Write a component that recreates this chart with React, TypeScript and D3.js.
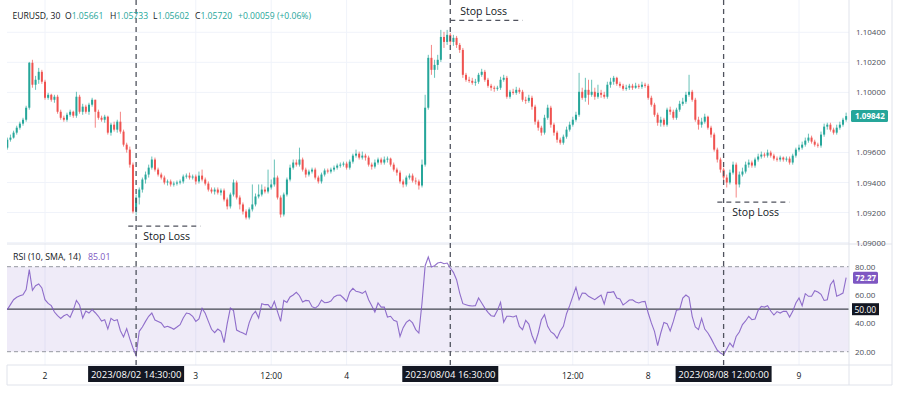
import React, { useRef, useEffect } from 'react';
import * as d3 from 'd3';

// 30 min EURUSD bars, 2023-08-01 18:00 .. 2023-08-09 07:30
const FIRST_OPEN = 1.09632;
const CLOSES = [
  1.09685, 1.09699, 1.09732, 1.09765, 1.09792, 1.09818, 1.09898, 1.10197, 1.10051, 1.10084,
  1.10137, 1.10071, 1.09964, 1.09984, 1.09951, 1.09971, 1.09871, 1.09831, 1.09818, 1.09851,
  1.09871, 1.09845, 1.09971, 1.09871, 1.09905, 1.09871, 1.09918, 1.09951, 1.09871, 1.09831,
  1.09818, 1.09838, 1.09732, 1.09785, 1.09752, 1.09805, 1.09739, 1.09652, 1.09619, 1.09519,
  1.09207, 1.09300, 1.09353, 1.09420, 1.09453, 1.09499, 1.09553, 1.09486, 1.09453, 1.09433,
  1.09400, 1.09407, 1.09387, 1.09393, 1.09400, 1.09407, 1.09440, 1.09446, 1.09433, 1.09440,
  1.09407, 1.09446, 1.09420, 1.09393, 1.09353, 1.09340, 1.09353, 1.09333, 1.09347, 1.09287,
  1.09241, 1.09320, 1.09400, 1.09300, 1.09254, 1.09207, 1.09167, 1.09221, 1.09254, 1.09307,
  1.09320, 1.09353, 1.09340, 1.09367, 1.09387, 1.09433, 1.09300, 1.09187, 1.09320, 1.09420,
  1.09499, 1.09533, 1.09519, 1.09553, 1.09486, 1.09453, 1.09473, 1.09486, 1.09433, 1.09407,
  1.09453, 1.09480, 1.09473, 1.09486, 1.09499, 1.09513, 1.09519, 1.09526, 1.09499, 1.09539,
  1.09579, 1.09592, 1.09566, 1.09579, 1.09566, 1.09519, 1.09506, 1.09533, 1.09553, 1.09533,
  1.09553, 1.09559, 1.09519, 1.09486, 1.09466, 1.09407, 1.09387, 1.09433, 1.09446, 1.09413,
  1.09407, 1.09380, 1.09519, 1.09898, 1.10230, 1.10150, 1.10183, 1.10217, 1.10369, 1.10336,
  1.10383, 1.10336, 1.10363, 1.10316, 1.10283, 1.10117, 1.10084, 1.10077, 1.10064, 1.10071,
  1.10117, 1.10137, 1.10084, 1.10044, 1.10031, 1.10024, 1.10031, 1.10084, 1.10097, 1.09971,
  1.10004, 1.09997, 1.10017, 1.10004, 1.09951, 1.09944, 1.09964, 1.09905, 1.09805, 1.09765,
  1.09732, 1.09831, 1.09898, 1.09785, 1.09732, 1.09685, 1.09665, 1.09705, 1.09752, 1.09785,
  1.09818, 1.09851, 1.10004, 1.09964, 1.10017, 1.09984, 1.10004, 1.09971, 1.09997, 1.09984,
  1.09971, 1.10051, 1.10071, 1.10097, 1.10057, 1.10044, 1.10024, 1.10031, 1.10044, 1.10031,
  1.10044, 1.10037, 1.10051, 1.10044, 1.09964, 1.09918, 1.09851, 1.09798, 1.09818, 1.09785,
  1.09885, 1.09871, 1.09831, 1.09885, 1.09924, 1.09938, 1.09984, 1.10004, 1.09951, 1.09818,
  1.09785, 1.09805, 1.09838, 1.09765, 1.09719, 1.09619, 1.09553, 1.09486, 1.09433, 1.09400,
  1.09466, 1.09519, 1.09387, 1.09453, 1.09473, 1.09519, 1.09533, 1.09513, 1.09553, 1.09573,
  1.09586, 1.09579, 1.09599, 1.09579, 1.09559, 1.09553, 1.09566, 1.09553, 1.09559, 1.09533,
  1.09579, 1.09619, 1.09632, 1.09652, 1.09679, 1.09699, 1.09672, 1.09652, 1.09646, 1.09719,
  1.09772, 1.09785, 1.09752, 1.09732, 1.09765, 1.09785, 1.09818, 1.09842,
];
const HIGHS = [
  1.09699, 1.09719, 1.09745, 1.09778, 1.09805, 1.09831, 1.09911, 1.10203, 1.10217, 1.10110,
  1.10163, 1.10150, 1.10084, 1.09997, 1.09991, 1.09984, 1.09984, 1.09885, 1.09845, 1.09865,
  1.09885, 1.09878, 1.10004, 1.09984, 1.09924, 1.09918, 1.09931, 1.09964, 1.09951, 1.09885,
  1.09845, 1.09851, 1.09845, 1.09798, 1.09805, 1.09818, 1.09871, 1.09752, 1.09665, 1.09639,
  1.09533, 1.09320, 1.09367, 1.09433, 1.09473, 1.09519, 1.09573, 1.09566, 1.09499, 1.09466,
  1.09446, 1.09420, 1.09420, 1.09407, 1.09413, 1.09420, 1.09453, 1.09460, 1.09466, 1.09453,
  1.09453, 1.09473, 1.09486, 1.09433, 1.09407, 1.09367, 1.09367, 1.09367, 1.09360, 1.09360,
  1.09300, 1.09333, 1.09420, 1.09413, 1.09314, 1.09267, 1.09221, 1.09234, 1.09387, 1.09327,
  1.09387, 1.09387, 1.09373, 1.09486, 1.09420, 1.09553, 1.09446, 1.09314, 1.09333, 1.09433,
  1.09519, 1.09553, 1.09553, 1.09632, 1.09566, 1.09499, 1.09486, 1.09499, 1.09499, 1.09446,
  1.09466, 1.09493, 1.09493, 1.09499, 1.09513, 1.09526, 1.09533, 1.09539, 1.09539, 1.09553,
  1.09592, 1.09619, 1.09606, 1.09606, 1.09592, 1.09579, 1.09533, 1.09553, 1.09566, 1.09566,
  1.09573, 1.09573, 1.09566, 1.09533, 1.09499, 1.09480, 1.09420, 1.09446, 1.09460, 1.09460,
  1.09433, 1.09420, 1.09553, 1.09984, 1.10250, 1.10316, 1.10217, 1.10250, 1.10416, 1.10403,
  1.10416, 1.10396, 1.10383, 1.10376, 1.10329, 1.10296, 1.10130, 1.10104, 1.10097, 1.10090,
  1.10130, 1.10157, 1.10150, 1.10097, 1.10057, 1.10044, 1.10044, 1.10104, 1.10117, 1.10110,
  1.10017, 1.10024, 1.10037, 1.10031, 1.10017, 1.09971, 1.09984, 1.09978, 1.09918, 1.09818,
  1.09778, 1.09851, 1.09918, 1.09911, 1.09798, 1.09745, 1.09699, 1.09719, 1.09772, 1.09805,
  1.09838, 1.09871, 1.10130, 1.10031, 1.10097, 1.10084, 1.10084, 1.10031, 1.10051, 1.10017,
  1.10004, 1.10071, 1.10097, 1.10110, 1.10104, 1.10071, 1.10057, 1.10051, 1.10057, 1.10057,
  1.10064, 1.10057, 1.10071, 1.10064, 1.10057, 1.09978, 1.09931, 1.09865, 1.09838, 1.09831,
  1.09898, 1.09905, 1.09885, 1.09898, 1.09944, 1.09964, 1.10004, 1.10117, 1.10017, 1.09964,
  1.09838, 1.09831, 1.09858, 1.09845, 1.09778, 1.09732, 1.09632, 1.09566, 1.09499, 1.09453,
  1.09486, 1.09539, 1.09533, 1.09473, 1.09499, 1.09539, 1.09553, 1.09546, 1.09566, 1.09592,
  1.09606, 1.09599, 1.09619, 1.09612, 1.09592, 1.09573, 1.09579, 1.09573, 1.09573, 1.09573,
  1.09592, 1.09632, 1.09652, 1.09672, 1.09699, 1.09725, 1.09712, 1.09685, 1.09665, 1.09739,
  1.09792, 1.09798, 1.09798, 1.09765, 1.09785, 1.09805, 1.09831, 1.09865,
];
const LOWS = [
  1.09619, 1.09672, 1.09692, 1.09719, 1.09752, 1.09778, 1.09805, 1.09885, 1.10031, 1.10017,
  1.10057, 1.10057, 1.09951, 1.09951, 1.09938, 1.09931, 1.09858, 1.09818, 1.09805, 1.09805,
  1.09838, 1.09831, 1.09831, 1.09858, 1.09851, 1.09858, 1.09851, 1.09905, 1.09765, 1.09818,
  1.09805, 1.09798, 1.09719, 1.09712, 1.09739, 1.09732, 1.09725, 1.09639, 1.09599, 1.09499,
  1.09194, 1.09181, 1.09254, 1.09333, 1.09393, 1.09433, 1.09486, 1.09473, 1.09440, 1.09420,
  1.09387, 1.09380, 1.09373, 1.09373, 1.09380, 1.09387, 1.09393, 1.09426, 1.09420, 1.09420,
  1.09387, 1.09393, 1.09407, 1.09380, 1.09340, 1.09327, 1.09320, 1.09320, 1.09314, 1.09274,
  1.09221, 1.09227, 1.09307, 1.09287, 1.09221, 1.09187, 1.09154, 1.09154, 1.09207, 1.09241,
  1.09294, 1.09307, 1.09327, 1.09327, 1.09353, 1.09373, 1.09287, 1.09167, 1.09174, 1.09307,
  1.09407, 1.09486, 1.09506, 1.09506, 1.09473, 1.09433, 1.09440, 1.09460, 1.09420, 1.09393,
  1.09393, 1.09440, 1.09460, 1.09460, 1.09473, 1.09486, 1.09499, 1.09506, 1.09486, 1.09486,
  1.09526, 1.09566, 1.09553, 1.09553, 1.09546, 1.09506, 1.09486, 1.09493, 1.09519, 1.09519,
  1.09519, 1.09533, 1.09506, 1.09473, 1.09446, 1.09393, 1.09367, 1.09373, 1.09420, 1.09400,
  1.09387, 1.09353, 1.09367, 1.09506, 1.09885, 1.10117, 1.10097, 1.10150, 1.10203, 1.10296,
  1.10316, 1.10316, 1.10310, 1.10296, 1.10263, 1.10097, 1.10071, 1.10064, 1.10051, 1.10044,
  1.10057, 1.10104, 1.10071, 1.10031, 1.10011, 1.10004, 1.10011, 1.10017, 1.10071, 1.09958,
  1.09958, 1.09984, 1.09984, 1.09991, 1.09938, 1.09924, 1.09931, 1.09885, 1.09785, 1.09745,
  1.09712, 1.09719, 1.09818, 1.09765, 1.09712, 1.09665, 1.09652, 1.09652, 1.09692, 1.09739,
  1.09772, 1.09805, 1.09838, 1.09951, 1.09938, 1.09918, 1.09971, 1.09951, 1.09958, 1.09964,
  1.09958, 1.09958, 1.10031, 1.10051, 1.10044, 1.10031, 1.10011, 1.10011, 1.10017, 1.10017,
  1.10024, 1.10024, 1.10024, 1.10031, 1.09951, 1.09905, 1.09838, 1.09778, 1.09772, 1.09772,
  1.09772, 1.09851, 1.09818, 1.09818, 1.09871, 1.09911, 1.09924, 1.09971, 1.09938, 1.09805,
  1.09752, 1.09765, 1.09792, 1.09752, 1.09699, 1.09606, 1.09533, 1.09466, 1.09400, 1.09367,
  1.09387, 1.09453, 1.09300, 1.09367, 1.09440, 1.09460, 1.09499, 1.09499, 1.09499, 1.09539,
  1.09559, 1.09566, 1.09566, 1.09566, 1.09546, 1.09539, 1.09539, 1.09539, 1.09539, 1.09519,
  1.09519, 1.09566, 1.09606, 1.09619, 1.09639, 1.09665, 1.09659, 1.09639, 1.09632, 1.09632,
  1.09705, 1.09752, 1.09739, 1.09719, 1.09719, 1.09752, 1.09772, 1.09805,
];

// RSI (10) per bar
const RSI = [
  49.7, 53.2, 56.7, 58.4, 59.5, 60.2, 63.8, 77.9, 63.3, 66.6,
  67.8, 65.0, 56.7, 54.1, 52.5, 48.0, 45.4, 43.5, 45.4, 46.4,
  44.3, 49.4, 56.2, 53.0, 43.8, 48.7, 47.3, 49.7, 47.5, 45.0,
  41.7, 42.6, 36.0, 43.5, 41.9, 42.6, 34.8, 30.4, 36.3, 29.0,
  22.6, 17.2, 34.4, 37.4, 41.4, 45.0, 47.3, 42.4, 41.4, 40.3,
  37.2, 37.9, 37.0, 35.8, 37.4, 39.1, 43.8, 47.3, 46.8, 45.0,
  41.4, 43.1, 50.6, 47.1, 41.4, 35.8, 33.4, 36.0, 34.4, 26.4,
  39.8, 50.8, 49.0, 35.3, 34.1, 33.2, 32.0, 40.5, 45.9, 48.5,
  43.8, 53.9, 53.2, 53.2, 50.4, 55.5, 48.3, 41.4, 56.2, 54.8,
  58.6, 60.0, 61.9, 59.5, 55.1, 56.2, 56.0, 51.8, 50.8, 52.5,
  56.5, 54.6, 54.8, 55.8, 58.6, 59.8, 60.0, 57.9, 55.5, 62.1,
  64.7, 62.6, 62.1, 61.2, 62.8, 56.7, 52.5, 48.0, 54.4, 51.5,
  51.5, 44.5, 45.0, 42.1, 41.4, 30.8, 37.0, 40.7, 42.4, 40.3,
  35.6, 33.2, 54.4, 80.7, 86.8, 79.8, 80.7, 82.6, 83.1, 82.1,
  82.6, 79.1, 76.0, 70.8, 61.4, 53.9, 53.2, 52.5, 52.3, 52.5,
  57.9, 54.4, 50.8, 47.8, 45.4, 45.0, 49.2, 54.8, 40.7, 45.0,
  45.0, 44.5, 45.4, 37.9, 35.6, 42.1, 39.5, 31.6, 26.1, 33.2,
  42.6, 46.1, 37.9, 34.1, 32.5, 29.4, 34.6, 37.9, 46.8, 52.5,
  59.1, 65.4, 56.7, 61.4, 61.2, 59.1, 57.9, 56.7, 58.4, 60.0,
  53.7, 61.9, 61.9, 62.4, 57.9, 57.2, 53.0, 54.6, 56.5, 56.7,
  55.1, 54.4, 55.3, 55.5, 47.3, 40.3, 34.4, 24.3, 33.2, 40.7,
  39.8, 34.6, 41.4, 49.2, 49.7, 57.9, 60.0, 58.4, 45.0, 37.4,
  35.6, 43.5, 36.0, 33.2, 29.4, 25.0, 21.0, 19.1, 17.9, 21.9,
  26.1, 23.3, 30.8, 33.9, 39.1, 41.7, 45.0, 42.6, 43.1, 49.2,
  52.0, 51.5, 52.5, 48.7, 45.9, 48.3, 47.3, 48.5, 48.5, 44.5,
  48.5, 54.4, 57.9, 52.5, 61.0, 59.1, 59.1, 63.1, 62.1, 60.5,
  56.2, 56.7, 67.3, 70.4, 59.1, 60.2, 61.4, 72.27,
];

const PRICE_TICKS = [1.090, 1.092, 1.094, 1.096, 1.098, 1.100, 1.102, 1.104];
const RSI_TICKS = [20, 40, 60, 80];
const TIME_INDEX = [12, 60, 84, 108, 180, 204, 252];
const TIME_TEXT = ['2', '3', '12:00', '4', '12:00', '8', '9'];
const MARKER_INDEX = [41, 141, 228];
const MARKER_TEXT = ['2023/08/02 14:30:00', '2023/08/04 16:30:00', '2023/08/08 12:00:00'];
const STOP_PRICE = [1.0911, 1.1048, 1.0927];
const STOP_FROM = [38.5, 141, 226];
const STOP_TO = [61.5, 164, 249];
const HEADER_LABELS = ['EURUSD, 30', 'O', 'H', 'L', 'C', ''];
const HEADER_VALUES = ['', '1.05661', '1.05733', '1.05602', '1.05720', '+0.00059 (+0.06%)'];

const UP = '#26a69a';
const DOWN = '#ef5350';
const PURPLE = '#7e57c2';
const INK = '#131722';
const FONT = "'Open Sans', 'DejaVu Sans', sans-serif";

const App = () => {
  const svgRef = useRef(null);
  const width = 900;
  const height = 393;

  useEffect(() => {
    const svg = d3.select(svgRef.current);
    svg.selectAll('*').remove();

    const left = 7;
    const axisX = 849;
    const rightEdge = 892;
    const mainBottom = 244;
    const rsiBottom = 365;
    const bottomEdge = 385;

    const x = d3.scaleLinear().domain([0, CLOSES.length - 1]).range([7.3, 7.3 + 3.1417 * (CLOSES.length - 1)]);
    const y = d3.scaleLinear().domain([1.09, 1.104]).range([242.6, 32.3]);
    const yr = d3.scaleLinear().domain([20, 80]).range([351.7, 266.7]);

    const bars = CLOSES.map((c, i) => ({
      i,
      o: i === 0 ? FIRST_OPEN : CLOSES[i - 1],
      h: HIGHS[i],
      l: LOWS[i],
      c,
    }));

    svg.append('rect').attr('width', width).attr('height', height).attr('fill', '#fff');

    // grid
    svg.append('g').selectAll('line')
      .data(TIME_INDEX)
      .join('line')
      .attr('x1', d => x(d)).attr('x2', d => x(d))
      .attr('y1', 0).attr('y2', rsiBottom)
      .attr('stroke', '#f0f3fa');
    svg.append('g').selectAll('line')
      .data(PRICE_TICKS)
      .join('line')
      .attr('x1', left).attr('x2', axisX)
      .attr('y1', d => y(d)).attr('y2', d => y(d))
      .attr('stroke', '#f0f3fa');

    // rsi band
    svg.append('rect')
      .attr('x', left).attr('width', axisX - left)
      .attr('y', yr(80)).attr('height', yr(20) - yr(80))
      .attr('fill', 'rgba(126, 87, 194, 0.12)');
    svg.append('g').selectAll('line')
      .data([20, 80])
      .join('line')
      .attr('x1', left).attr('x2', axisX)
      .attr('y1', d => yr(d)).attr('y2', d => yr(d))
      .attr('stroke', '#9598a1').attr('stroke-dasharray', '4,3');
    svg.append('line')
      .attr('x1', left).attr('x2', axisX)
      .attr('y1', yr(50)).attr('y2', yr(50))
      .attr('stroke', '#434651').attr('stroke-width', 1.2);

    // candles
    svg.append('clipPath').attr('id', 'mainClip')
      .append('rect').attr('x', left).attr('y', 0).attr('width', axisX - left).attr('height', mainBottom);
    const candles = svg.append('g').attr('clip-path', 'url(#mainClip)')
      .selectAll('g')
      .data(bars)
      .join('g')
      .attr('fill', d => (d.c >= d.o ? UP : DOWN))
      .attr('stroke', d => (d.c >= d.o ? UP : DOWN));
    candles.append('line')
      .attr('x1', d => x(d.i)).attr('x2', d => x(d.i))
      .attr('y1', d => y(Math.max(d.h, d.o, d.c))).attr('y2', d => y(Math.min(d.l, d.o, d.c)))
      .attr('stroke-width', 1).attr('stroke-opacity', 0.7);
    candles.append('rect')
      .attr('x', d => x(d.i) - 1).attr('width', 2)
      .attr('y', d => y(Math.max(d.o, d.c)))
      .attr('height', d => Math.max(1, Math.abs(y(d.o) - y(d.c))))
      .attr('stroke', 'none');

    // rsi line
    const rsiLine = d3.line().x((d, i) => x(i)).y(d => yr(d));
    svg.append('path')
      .attr('d', rsiLine(RSI))
      .attr('fill', 'none')
      .attr('stroke', PURPLE)
      .attr('stroke-width', 1.1)
      .attr('stroke-opacity', 0.85);

    // frame
    const frame = svg.append('g').attr('stroke', '#e0e3eb').attr('fill', 'none');
    frame.append('line').attr('x1', left).attr('x2', rightEdge).attr('y1', mainBottom).attr('y2', mainBottom);
    frame.append('line').attr('x1', left).attr('x2', rightEdge).attr('y1', rsiBottom).attr('y2', rsiBottom);
    frame.append('line').attr('x1', axisX).attr('x2', axisX).attr('y1', 0).attr('y2', bottomEdge);
    frame.append('line').attr('x1', rightEdge).attr('x2', rightEdge).attr('y1', 0).attr('y2', bottomEdge);
    frame.append('line').attr('x1', left).attr('x2', left).attr('y1', rsiBottom).attr('y2', bottomEdge);
    frame.append('line').attr('x1', left).attr('x2', rightEdge).attr('y1', bottomEdge).attr('y2', bottomEdge);

    // price axis (the tick hidden under the last-price badge is skipped)
    const last = CLOSES[CLOSES.length - 1];
    svg.append('g').selectAll('text')
      .data(PRICE_TICKS.filter(d => Math.abs(y(d) - y(last)) > 10))
      .join('text')
      .attr('x', 856).attr('y', d => y(d) + 3)
      .attr('font-family', FONT).attr('font-size', 8).attr('fill', '#4a4d57')
      .text(d => d.toFixed(5));
    svg.append('rect')
      .attr('x', 851).attr('y', y(last) - 6).attr('width', 37).attr('height', 12)
      .attr('rx', 1.5).attr('fill', UP);
    svg.append('text')
      .attr('x', 855).attr('y', y(last) + 3)
      .attr('font-family', FONT).attr('font-size', 8).attr('font-weight', 'bold').attr('fill', '#fff')
      .text(last.toFixed(5));

    // rsi axis
    svg.append('g').selectAll('text')
      .data(RSI_TICKS)
      .join('text')
      .attr('x', 855).attr('y', d => yr(d) + 3)
      .attr('font-family', FONT).attr('font-size', 8).attr('fill', '#4a4d57')
      .text(d => d.toFixed(2));
    const lastRsi = RSI[RSI.length - 1];
    svg.append('rect')
      .attr('x', 853).attr('y', yr(lastRsi) - 6).attr('width', 25).attr('height', 12)
      .attr('rx', 1.5).attr('fill', PURPLE);
    svg.append('text')
      .attr('x', 855.5).attr('y', yr(lastRsi) + 3)
      .attr('font-family', FONT).attr('font-size', 8).attr('font-weight', 'bold').attr('fill', '#fff')
      .text(lastRsi.toFixed(2));
    svg.append('rect')
      .attr('x', 852).attr('y', yr(50) - 6).attr('width', 27).attr('height', 12)
      .attr('fill', INK);
    svg.append('text')
      .attr('x', 854.5).attr('y', yr(50) + 3.5)
      .attr('font-family', FONT).attr('font-size', 8.5).attr('fill', '#fff')
      .text((50).toFixed(2));

    // time axis
    svg.append('g').selectAll('text')
      .data(TIME_INDEX)
      .join('text')
      .attr('x', d => x(d)).attr('y', 378.5)
      .attr('text-anchor', 'middle')
      .attr('font-family', FONT).attr('font-size', 8.5).attr('fill', INK)
      .text((d, i) => TIME_TEXT[i]);

    // marker verticals
    svg.append('g').selectAll('line')
      .data(MARKER_INDEX)
      .join('line')
      .attr('x1', d => x(d)).attr('x2', d => x(d))
      .attr('y1', 0).attr('y2', rsiBottom)
      .attr('stroke', '#50535e').attr('stroke-width', 1.3).attr('stroke-dasharray', '5,4');

    const tips = svg.append('g').selectAll('g')
      .data(MARKER_INDEX)
      .join('g')
      .attr('transform', d => `translate(${x(d)},0)`);
    tips.append('rect')
      .attr('x', -48).attr('y', 366).attr('width', 96).attr('height', 16)
      .attr('fill', INK);
    tips.append('text')
      .attr('x', 0).attr('y', 377.5)
      .attr('text-anchor', 'middle')
      .attr('font-family', FONT).attr('font-size', 9.5).attr('fill', '#fff')
      .text((d, i) => MARKER_TEXT[i]);

    // stop loss annotations
    const stops = svg.append('g').selectAll('g')
      .data(STOP_PRICE)
      .join('g');
    stops.append('line')
      .attr('x1', (d, i) => x(STOP_FROM[i])).attr('x2', (d, i) => x(STOP_TO[i]))
      .attr('y1', d => y(d)).attr('y2', d => y(d))
      .attr('stroke', '#50535e').attr('stroke-width', 1.3).attr('stroke-dasharray', '5,4');
    stops.append('text')
      .attr('x', (d, i) => x(STOP_FROM[i]) + (i === 1 ? 10 : 15))
      .attr('y', (d, i) => (i === 1 ? y(d) - 5 : y(d) + 13.5))
      .attr('font-family', FONT).attr('font-size', 10.5).attr('fill', INK)
      .text('Stop Loss');

    // symbol legend, laid out like the screenshot
    const headX = [12.5, 65, 110, 153, 195, 238];
    const head = svg.append('g').attr('font-family', FONT).attr('font-size', 8.6);
    HEADER_LABELS.forEach((lab, k) => {
      const t = head.append('text').attr('x', headX[k]).attr('y', 19).attr('fill', INK);
      t.append('tspan').text(lab);
      t.append('tspan').attr('fill', UP).text(HEADER_VALUES[k]);
    });

    const rsiHead = svg.append('g').attr('font-family', FONT).attr('font-size', 8.8);
    rsiHead.append('text').attr('x', 13).attr('y', 260).attr('fill', INK).text('RSI (10, SMA, 14)');
    rsiHead.append('text').attr('x', 88).attr('y', 260).attr('fill', PURPLE).text('85.01');
  }, []);

  return (
    <svg
      ref={svgRef}
      width={width}
      height={height}
      style={{ position: 'absolute', left: 0, top: 0, display: 'block' }}
    />
  );
};

export default App;
